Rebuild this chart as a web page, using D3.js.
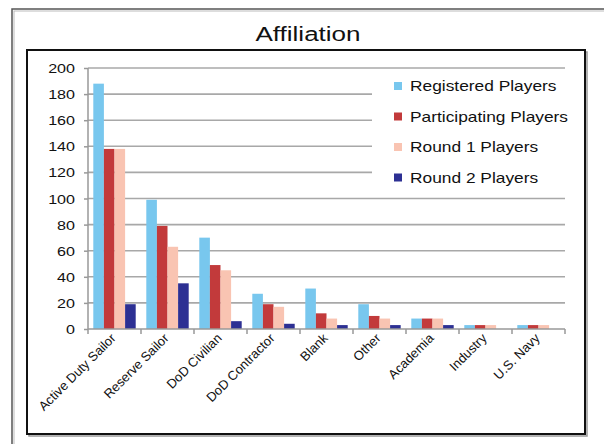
<!DOCTYPE html>
<html>
<head>
<meta charset="utf-8">
<script src="https://cdn.jsdelivr.net/npm/d3@7"></script>
<style>
  body { margin: 0; background: #fff; }
  text { font-family: "Liberation Sans", Arial, sans-serif; fill: #111; }
</style>
</head>
<body>
<div id="chart"></div>
<script>
var width = 604, height = 444;

// data
var categories = ["Active Duty Sailor", "Reserve Sailor", "DoD Civilian", "DoD Contractor",
                  "Blank", "Other", "Academia", "Industry", "U.S. Navy"];
var seriesNames = ["Registered Players", "Participating Players", "Round 1 Players", "Round 2 Players"];
var registered    = [188, 99, 70, 27, 31, 19, 8, 3, 3];
var participating = [138, 79, 49, 19, 12, 10, 8, 3, 3];
var round1        = [138, 63, 45, 17, 8, 8, 8, 3, 3];
var round2        = [19, 35, 6, 4, 3, 3, 3, 0, 0];
var yTicks = [0, 20, 40, 60, 80, 100, 120, 140, 160, 180, 200];
var colors = ["#78C7EE", "#C23A3B", "#F9C4B2", "#2D3093"];

var seriesValues = [registered, participating, round1, round2];
var stretch = 1.24; // text in the picture is a bit wide

var svg = d3.select("#chart").append("svg")
    .attr("width", width)
    .attr("height", height);

// outer frame
svg.append("rect").attr("x", 12).attr("y", 9).attr("width", 620).attr("height", 460)
    .attr("fill", "none").attr("stroke", "#555").attr("stroke-width", 1.5);
svg.append("rect").attr("x", 14).attr("y", 11).attr("width", 620).attr("height", 460)
    .attr("fill", "none").attr("stroke", "#bbb").attr("stroke-width", 1);

// inner frame
svg.append("rect").attr("x", 29).attr("y", 52).attr("width", 558).attr("height", 384)
    .attr("fill", "none").attr("stroke", "#999").attr("stroke-width", 1.5);
svg.append("rect").attr("x", 27).attr("y", 50).attr("width", 558).attr("height", 384)
    .attr("fill", "#fff").attr("stroke", "#111").attr("stroke-width", 2);

// title
svg.append("text")
    .attr("transform", "translate(308,41) scale(" + stretch + ",1)")
    .attr("text-anchor", "middle")
    .style("font-size", "21px")
    .text("Affiliation");

var xScale = d3.scaleBand().domain(categories).range([88, 565]);
var xSub = d3.scaleBand().domain(d3.range(4)).range([0, xScale.bandwidth()])
    .paddingInner(0).paddingOuter(0.5);
var yScale = d3.scaleLinear().domain([0, 200]).range([329, 68]);

// grid
svg.append("g").selectAll("line")
    .data(yTicks.filter(function(d) { return d > 0; }))
    .enter().append("line")
    .attr("x1", 88).attr("x2", 565)
    .attr("y1", function(d) { return yScale(d); })
    .attr("y2", function(d) { return yScale(d); })
    .attr("stroke", "#a8a8a8").attr("stroke-width", 1.6);

// y axis
var yAxis = svg.append("g")
    .attr("transform", "translate(88,0)")
    .call(d3.axisLeft(yScale).tickValues(yTicks).tickSize(4).tickFormat(""));
yAxis.selectAll("path, line").attr("stroke", "#999").attr("stroke-width", 1.5);
yAxis.select(".domain").attr("d", "M0," + yScale(200) + "V" + yScale(0));

svg.append("g").selectAll("text")
    .data(yTicks)
    .enter().append("text")
    .attr("transform", function(d) { return "translate(75," + (yScale(d) + 5) + ") scale(" + stretch + ",1)"; })
    .attr("text-anchor", "end")
    .style("font-size", "13px")
    .text(function(d) { return d; });

// bars
var groups = svg.append("g").selectAll("g")
    .data(seriesValues)
    .enter().append("g")
    .attr("fill", function(d, i) { return colors[i]; });

groups.each(function(vals, si) {
    d3.select(this).selectAll("rect")
        .data(vals)
        .enter().append("rect")
        .attr("x", function(d, ci) { return xScale(categories[ci]) + xSub(si); })
        .attr("y", function(d) { return yScale(d); })
        .attr("width", xSub.bandwidth())
        .attr("height", function(d) { return yScale(0) - yScale(d); });
});

// x axis
var xAxisG = svg.append("g").attr("transform", "translate(0,329)");
xAxisG.append("line").attr("x1", 88).attr("x2", 565).attr("y1", 0).attr("y2", 0)
    .attr("stroke", "#999").attr("stroke-width", 1.5);
xAxisG.selectAll(".tk")
    .data(categories.concat(["end"]))
    .enter().append("line")
    .attr("class", "tk")
    .attr("x1", function(d, i) { return i < categories.length ? xScale(d) : 565; })
    .attr("x2", function(d, i) { return i < categories.length ? xScale(d) : 565; })
    .attr("y1", 0).attr("y2", 5)
    .attr("stroke", "#999").attr("stroke-width", 1.5);

svg.append("g").selectAll("text")
    .data(categories)
    .enter().append("text")
    .attr("transform", function(d) {
        return "translate(" + (xScale(d) + xScale.bandwidth() / 2 + 2) + ",339) rotate(-45)";
    })
    .attr("text-anchor", "end")
    .style("font-size", "13px")
    .text(function(d) { return d; });

// legend
var legend = svg.append("g");
legend.append("rect").attr("x", 372).attr("y", 72).attr("width", 210).attr("height", 118)
    .attr("fill", "#fff");
var items = legend.selectAll("g")
    .data(seriesNames)
    .enter().append("g")
    .attr("transform", function(d, i) { return "translate(394," + (86 + i * 30.5) + ")"; });
items.append("rect")
    .attr("x", 0).attr("y", -4).attr("width", 8).attr("height", 8)
    .attr("fill", function(d, i) { return colors[i]; });
items.append("text")
    .attr("transform", "translate(16,5) scale(" + stretch + ",1)")
    .style("font-size", "14px")
    .text(function(d) { return d; });
</script>
</body>
</html>
